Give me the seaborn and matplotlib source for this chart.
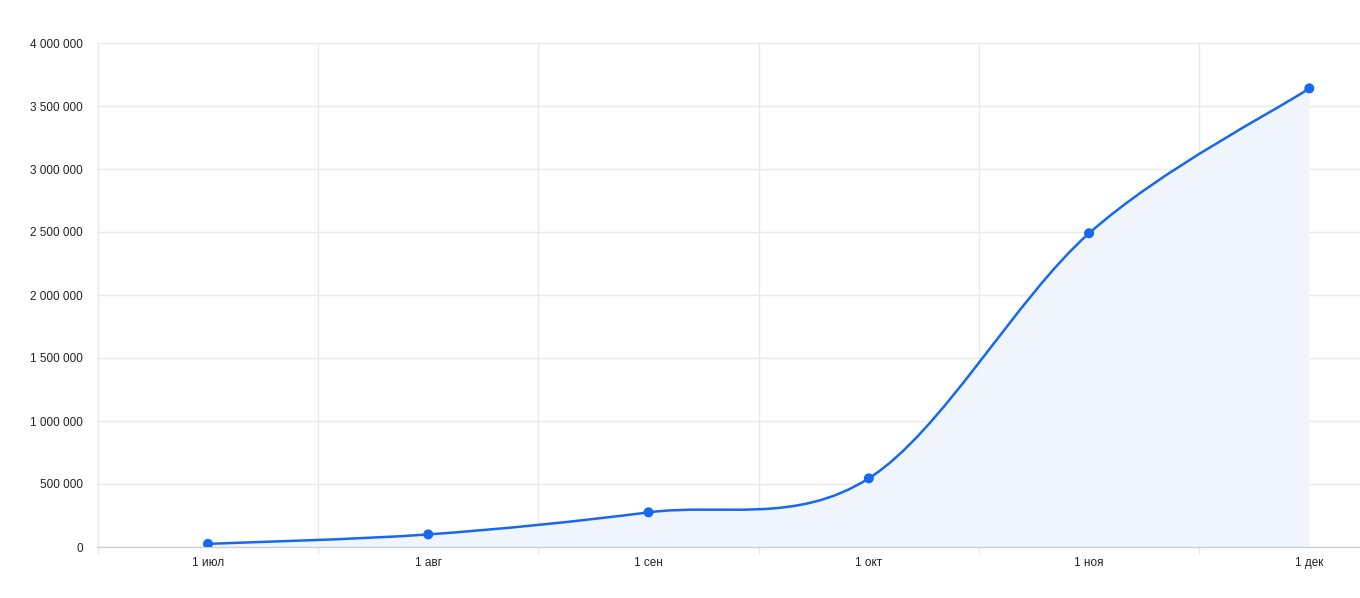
import numpy as np
import pandas as pd
import matplotlib
matplotlib.use("Agg")
import matplotlib.pyplot as plt
from matplotlib.path import Path
from matplotlib.patches import PathPatch
from matplotlib.ticker import FuncFormatter, FixedLocator
import seaborn as sns

# данные
month_labels = ["1 июл", "1 авг", "1 сен", "1 окт", "1 ноя", "1 дек"]
values = [25000, 100000, 275000, 545000, 2490000, 3640000]
y_ticks = [0, 500000, 1000000, 1500000, 2000000, 2500000, 3000000, 3500000, 4000000]

LINE = "#1768f0"
FILL = "#f0f4fc"
GRID = "#e9e9e9"


def spline_path(xs, ys, close_to=None):
    # сглаженная линия (Catmull-Rom -> кривые Безье)
    xs = np.asarray(xs, float)
    ys = np.asarray(ys, float)
    n = len(xs)
    mx = np.zeros(n)
    my = np.zeros(n)
    for i in range(n):
        a = max(i - 1, 0)
        b = min(i + 1, n - 1)
        mx[i] = (xs[b] - xs[a]) / 2
        my[i] = (ys[b] - ys[a]) / 2
    verts = [(xs[0], ys[0])]
    codes = [Path.MOVETO]
    for i in range(n - 1):
        verts += [(xs[i] + mx[i] / 3, ys[i] + my[i] / 3),
                  (xs[i + 1] - mx[i + 1] / 3, ys[i + 1] - my[i + 1] / 3),
                  (xs[i + 1], ys[i + 1])]
        codes += [Path.CURVE4] * 3
    if close_to is not None:
        verts += [(xs[-1], close_to), (xs[0], close_to), (xs[0], ys[0])]
        codes += [Path.LINETO, Path.LINETO, Path.CLOSEPOLY]
    return Path(verts, codes)


sns.set_theme(style="white")
plt.rcParams["font.family"] = ["Liberation Sans", "DejaVu Sans"]

fig = plt.figure(figsize=(13.6, 5.98), dpi=100)
ax = fig.add_axes([97 / 1360, 1 - 547 / 598, 1263 / 1360, 504 / 598])

pos = np.arange(len(values))

ax.add_patch(PathPatch(spline_path(pos, values, close_to=0), facecolor=FILL,
                       edgecolor="none", zorder=1))
ax.add_patch(PathPatch(spline_path(pos, values), facecolor="none",
                       edgecolor=LINE, lw=1.8, zorder=3, capstyle="round"))
df = pd.DataFrame({"pos": pos, "value": values})
sns.scatterplot(data=df, x="pos", y="value", ax=ax, color=LINE, s=52,
                edgecolor="none", zorder=4, legend=False)

ax.set_xlim(-0.504, 5.23)
ax.set_ylim(0, 4000000)

# подписи месяцев
ax.xaxis.set_major_locator(FixedLocator(pos))
ax.set_xticklabels(month_labels)
# вертикальная сетка посередине между месяцами
ax.xaxis.set_minor_locator(FixedLocator(pos - 0.5))
ax.tick_params(axis="x", which="major", length=0, pad=7, labelsize=8.5, labelcolor="#222222")
ax.tick_params(axis="x", which="minor", length=5, width=1, color=GRID, bottom=True)
ax.grid(True, axis="x", which="minor", color=GRID, lw=1, zorder=0)

ax.set_yticks(y_ticks)
ax.yaxis.set_major_formatter(FuncFormatter(lambda v, p: f"{int(v):,}".replace(",", " ")))
ax.tick_params(axis="y", length=0, pad=10, labelsize=8.5, labelcolor="#222222")
ax.grid(True, axis="y", which="major", color=GRID, lw=1, zorder=0)
ax.set_axisbelow(True)

for side in ["top", "right", "left"]:
    ax.spines[side].set_visible(False)
ax.spines["bottom"].set_color("#cfcfcf")
ax.spines["bottom"].set_linewidth(1)
ax.set_xlabel("")
ax.set_ylabel("")

fig.savefig("out.png", dpi=100, facecolor="white")
